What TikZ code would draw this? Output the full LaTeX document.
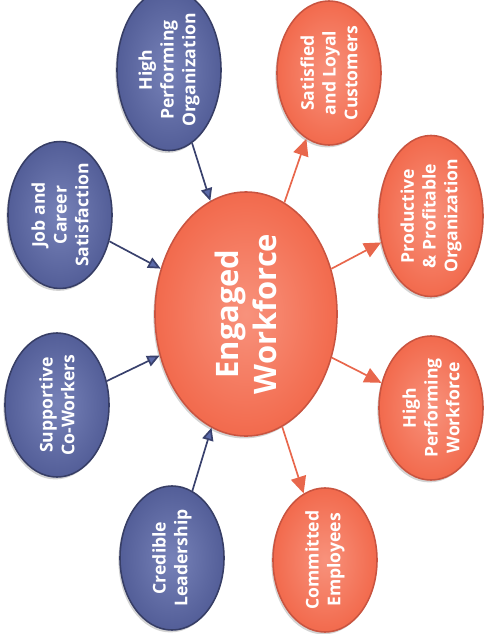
\documentclass[tikz,border=0pt]{standalone}
\usepackage{fontspec}
\setsansfont{Open Sans}
\usetikzlibrary{arrows.meta,shapes.geometric,shadows}

\definecolor{bluefill}{HTML}{535E98}
\definecolor{bluelight}{HTML}{7782B8}
\definecolor{blueedge}{HTML}{373E66}
\definecolor{orangefill}{HTML}{F26A4D}
\definecolor{orangelight}{HTML}{F8927C}
\definecolor{orangeedge}{HTML}{C95440}
\definecolor{arrowblue}{HTML}{39416D}
\definecolor{tipblue}{HTML}{5B6AA9}
\definecolor{arroworange}{HTML}{E8674C}

\tikzset{
	driver/.style={ellipse, rotate=90, draw=blueedge, line width=1.1pt,
		inner color=bluelight, outer color=bluefill,
		minimum width=3.6cm, minimum height=2.6cm, inner sep=0pt,
		align=center, text=white,
		font=\sffamily\bfseries\fontsize{12.5}{15.5}\selectfont,
		drop shadow={shadow xshift=-0.04cm, shadow yshift=-0.06cm, opacity=0.35}},
	result/.style={driver, draw=orangeedge, inner color=orangelight, outer color=orangefill},
	inarrow/.style={draw=arrowblue, line width=1.2pt,
		-{Triangle[length=9pt,width=8pt,fill=tipblue]}},
	outarrow/.style={draw=arroworange, line width=1.2pt,
		-{Triangle[length=12pt,width=11pt]}},
}

\begin{document}
\begin{tikzpicture}[x=0.025cm, y=-0.025cm]
	\useasboundingbox (0,0) rectangle (488,634);
	% centre
	\node[result, minimum width=6.1cm, minimum height=4.55cm,
		font=\sffamily\bfseries\fontsize{22}{27}\selectfont] (eng) at (246,314) {Engaged\\Workforce};
	% drivers
	\node[driver] (hpo) at (169,70) {High\\Performing\\Organization};
	\node[driver] (job) at (60,215) {Job and\\Career\\Satisfaction};
	\node[driver] (cow) at (57,405) {Supportive\\Co-Workers};
	\node[driver] (lead) at (172,558) {Credible\\Leadership};
	% outcomes
	\node[result] (cust) at (329,73) {Satisfied\\and Loyal\\Customers};
	\node[result] (prof) at (431,216) {Productive\\\& Profitable\\Organization};
	\node[result] (hpw) at (431,408) {High\\Performing\\Workforce};
	\node[result] (emp) at (325,560) {Committed\\Employees};
%
	\draw[inarrow] (hpo) -- (eng);
	\draw[inarrow] (job) -- (eng);
	\draw[inarrow] (cow) -- (eng);
	\draw[inarrow] (lead) -- (eng);
	\draw[outarrow] (eng) -- (cust);
	\draw[outarrow] (eng) -- (prof);
	\draw[outarrow] (eng) -- (hpw);
	\draw[outarrow] (eng) -- (emp);
\end{tikzpicture}
\end{document}
